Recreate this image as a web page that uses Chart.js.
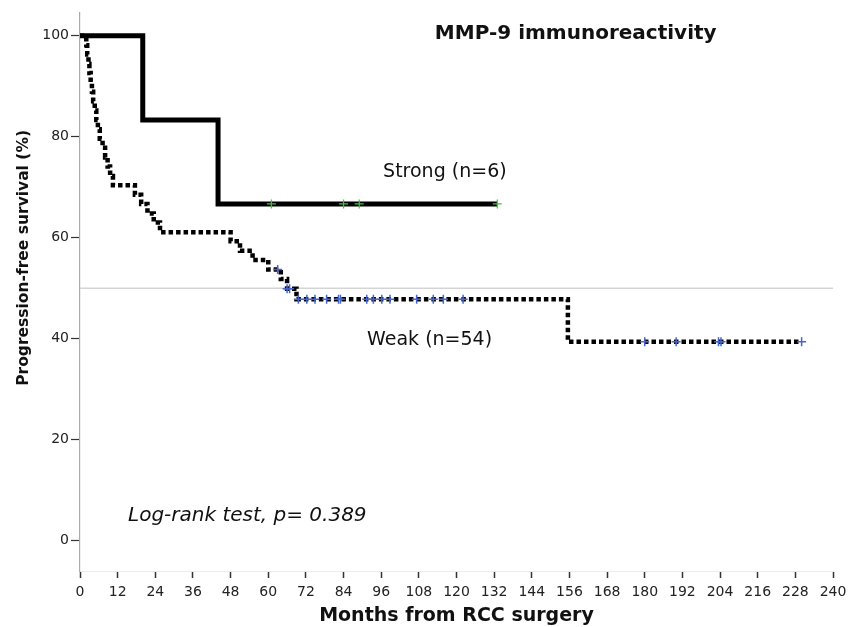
<!DOCTYPE html>
<html>
<head>
<meta charset="utf-8">
<script src="https://cdn.jsdelivr.net/npm/chart.js@4"></script>
<style>
  html, body { margin: 0; padding: 0; background: #fff; }
  #wrap { width: 859px; height: 627px; }
</style>
</head>
<body>
<div id="wrap"><canvas id="myChart" width="859" height="627"></canvas></div>
<script>
// Kaplan-Meier steps (months, % progression-free)
var strongTimes = [0, 20, 44, 133];
var strongSurv = [100, 83.3, 66.7, 66.7];
var strongCensorTimes = [61, 84, 89, 133];
var strongCensorSurv = [66.7, 66.7, 66.7, 66.7];

var weakTimes = [0, 2, 2.3, 2.7, 3, 3.4, 3.8, 4.2, 4.7, 5.2, 5.7, 6.3, 7.2, 8, 8.8, 9.6, 10.5,
    17.5, 19.5, 21.5, 23.5, 25.5, 48, 51, 55, 60, 64, 66, 69, 155.5, 230];
var weakSurv = [100, 98.1, 96.3, 94.4, 92.6, 90.7, 88.9, 87.0, 85.2, 83.3, 81.5, 79.6, 77.8, 75.9, 74.1, 72.2, 70.4,
    68.5, 66.7, 64.8, 63.0, 61.1, 59.3, 57.4, 55.6, 53.7, 51.8, 49.9, 47.8, 39.4, 39.4];
var weakCensorTimes = [63, 66, 66.8, 69.6, 72.3, 74.9, 78.6, 82.4, 83, 91.4, 93.5, 96.2, 98.8, 107.3, 112.6, 115.8, 122.1,
    180, 190, 203.5, 204.3, 230];
var weakCensorSurv = [53.7, 49.9, 49.9, 47.8, 47.8, 47.8, 47.8, 47.8, 47.8, 47.8, 47.8, 47.8, 47.8, 47.8, 47.8, 47.8, 47.8,
    39.4, 39.4, 39.4, 39.4, 39.4];

var xTicks = [0, 12, 24, 36, 48, 60, 72, 84, 96, 108, 120, 132, 144, 156, 168, 180, 192, 204, 216, 228, 240];
var yTicks = [0, 20, 40, 60, 80, 100];
var refLine = 50;

var FONT = "'DejaVu Sans', sans-serif";

function pts(xs, ys) {
    return xs.map(function (x, i) { return { x: x, y: ys[i] }; });
}

// free text placed in data coordinates
var labels = [
    { text: 'MMP-9 immunoreactivity', x: 113.1, y: 100.4, font: 'bold 20px ' + FONT },
    { text: 'Strong (n=6)', x: 96.6, y: 73.1, font: '19px ' + FONT },
    { text: 'Weak (n=54)', x: 91.5, y: 39.8, font: '19px ' + FONT },
    { text: 'Log-rank test, p= 0.389', x: 15.3, y: 5.0, font: 'italic 20px ' + FONT }
];

Chart.register({
    id: 'kmText',
    afterDatasetsDraw: function (chart) {
        var ctx = chart.ctx;
        var xs = chart.scales.x, ys = chart.scales.y;
        ctx.save();
        ctx.fillStyle = '#111';
        ctx.textAlign = 'left';
        ctx.textBaseline = 'middle';
        labels.forEach(function (l) {
            ctx.font = l.font;
            ctx.fillText(l.text, xs.getPixelForValue(l.x), ys.getPixelForValue(l.y));
        });
        // y axis title, sits a bit above the axis middle in the original
        ctx.translate(24, ys.getPixelForValue(56));
        ctx.rotate(-Math.PI / 2);
        ctx.textAlign = 'center';
        ctx.font = 'bold 15.5px ' + FONT;
        ctx.fillText('Progression-free survival (%)', 0, 0);
        ctx.restore();
    }
});

var ctx = document.getElementById('myChart').getContext('2d');
var chart = new Chart(ctx, {
    type: 'line',
    data: {
        datasets: [
            {
                type: 'scatter',
                data: pts(strongCensorTimes, strongCensorSurv),
                pointStyle: 'cross', pointRadius: 4.5, borderColor: '#33cc33', backgroundColor: '#33cc33',
                borderWidth: 1.2
            },
            {
                type: 'scatter',
                data: pts(weakCensorTimes, weakCensorSurv),
                pointStyle: 'cross', pointRadius: 4.5, borderColor: '#4466cc', backgroundColor: '#4466cc',
                borderWidth: 1.5
            },
            {
                data: pts(strongTimes, strongSurv),
                stepped: 'before', borderColor: '#000', borderWidth: 5, pointRadius: 0, fill: false,
                borderCapStyle: 'butt', borderJoinStyle: 'miter'
            },
            {
                data: pts(weakTimes, weakSurv),
                stepped: 'before', borderColor: '#000', borderWidth: 4.5, borderDash: [4.5, 3],
                pointRadius: 0, fill: false, borderCapStyle: 'butt'
            },
            {
                data: [{ x: 0, y: refLine }, { x: 240, y: refLine }],
                borderColor: '#d4d4d4', borderWidth: 1.5, pointRadius: 0, fill: false
            }
        ]
    },
    options: {
        responsive: false,
        animation: false,
        devicePixelRatio: 1,
        layout: { padding: { top: 13, right: 26, left: 0, bottom: 0 } },
        plugins: { legend: { display: false }, tooltip: { enabled: false } },
        scales: {
            x: {
                type: 'linear', min: 0, max: 240,
                afterBuildTicks: function (s) { s.ticks = xTicks.map(function (v) { return { value: v }; }); },
                afterFit: function (s) { s.height = 56; },
                ticks: { color: '#222', font: { family: FONT, size: 14 }, padding: 6, maxRotation: 0, autoSkip: false },
                grid: { drawOnChartArea: false, tickLength: 7, color: '#333', tickWidth: 1.5 },
                border: { color: '#ececec', width: 1 },
                title: { display: true, text: 'Months from RCC surgery', color: '#111',
                    font: { family: FONT, size: 19, weight: 'bold' }, padding: { top: 0, bottom: 0 } }
            },
            y: {
                type: 'linear', min: -6, max: 104.5,
                afterBuildTicks: function (s) { s.ticks = yTicks.map(function (v) { return { value: v }; }); },
                afterFit: function (s) { s.width = 80; },
                ticks: { color: '#222', font: { family: FONT, size: 14 }, padding: 2 },
                grid: { drawOnChartArea: false, tickLength: 9, color: '#333', tickWidth: 1.2 },
                border: { color: '#aaa', width: 1.2 },
                title: { display: false }
            }
        }
    }
});
</script>
</body>
</html>
